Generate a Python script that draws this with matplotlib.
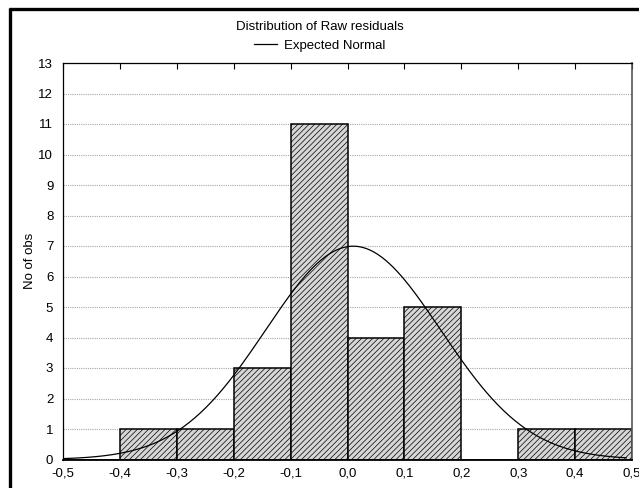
import numpy as np
import matplotlib
matplotlib.use('Agg')
import matplotlib.pyplot as plt
from matplotlib.lines import Line2D

# histogram of raw residuals
binEdges = [-0.5, -0.4, -0.3, -0.2, -0.1, 0.0, 0.1, 0.2, 0.3, 0.4, 0.5]
counts = [0, 1, 1, 3, 11, 4, 5, 0, 1, 1]
xTicks = [-0.5, -0.4, -0.3, -0.2, -0.1, 0.0, 0.1, 0.2, 0.3, 0.4, 0.5]
xTickLabels = ['-0,5', '-0,4', '-0,3', '-0,2', '-0,1', '0,0', '0,1', '0,2', '0,3', '0,4', '0,5']
yTicks = list(range(0, 14))

# expected normal parameters
nObs = 27
resMean = 0.01
resSd = 0.154
binWidth = 0.1

plt.rcParams['font.family'] = ['Liberation Sans', 'DejaVu Sans']
plt.rcParams['hatch.color'] = '#8a8a8a'
plt.rcParams['hatch.linewidth'] = 0.5

fig = plt.figure(figsize=(6.39, 4.88), dpi=100)
ax = fig.add_axes([63/639, 1-459.5/488, (632-63)/639, (459.5-63)/488])

left = np.array(binEdges[:-1])
ax.bar(left, counts, width=binWidth, align='edge', facecolor='#d6d6d6',
       edgecolor='black', linewidth=1.1, hatch='//////', zorder=2)

xs = np.linspace(-0.5, 0.49, 300)
ys = nObs*binWidth/(resSd*np.sqrt(2*np.pi))*np.exp(-0.5*((xs-resMean)/resSd)**2)
ax.plot(xs, ys, color='black', linewidth=0.9, zorder=3)

fs = 9.5
ax.set_xlim(-0.5, 0.5)
ax.set_ylim(0, 13)
ax.set_xticks(xTicks)
ax.set_xticklabels(xTickLabels, fontsize=fs)
ax.set_yticks(yTicks)
ax.set_yticklabels([str(v) for v in yTicks], fontsize=fs)
ax.tick_params(axis='x', direction='in', top=True, bottom=False, length=4, pad=6)
ax.tick_params(axis='y', direction='in', left=False, length=0, pad=7)
ax.yaxis.grid(True, linestyle=(0, (1, 1)), color='#a8a8a8', linewidth=0.8, zorder=0)
ax.set_axisbelow(True)
for s in ['left', 'top']:
    ax.spines[s].set_linewidth(0.9)
ax.spines['bottom'].set_linewidth(1.3)
ax.spines['right'].set_linewidth(1.2)
ax.spines['right'].set_color('#555555')
ax.set_ylabel('No of obs', fontsize=fs)
ax.yaxis.set_label_coords((36-63)/569, 0.5)

fig.text(0.5, 1-27/488, 'Distribution of Raw residuals', ha='center', va='center', fontsize=fs)
fig.legend(handles=[Line2D([0], [0], color='black', linewidth=0.9)], labels=['Expected Normal'],
           loc='center', bbox_to_anchor=(0.5, 1-46/488), frameon=False, fontsize=fs,
           handlelength=1.8, handletextpad=0.5, borderpad=0)

# frame around the picture (left and top edges only visible)
fig.add_artist(Line2D([10/639, 10/639], [0, 1-7.5/488], color='black', linewidth=2.4,
                      solid_capstyle='butt'))
fig.add_artist(Line2D([8.5/639, 1], [1-9/488, 1-9/488], color='black', linewidth=2.4,
                      solid_capstyle='butt'))

fig.savefig('out.png', dpi=100)
